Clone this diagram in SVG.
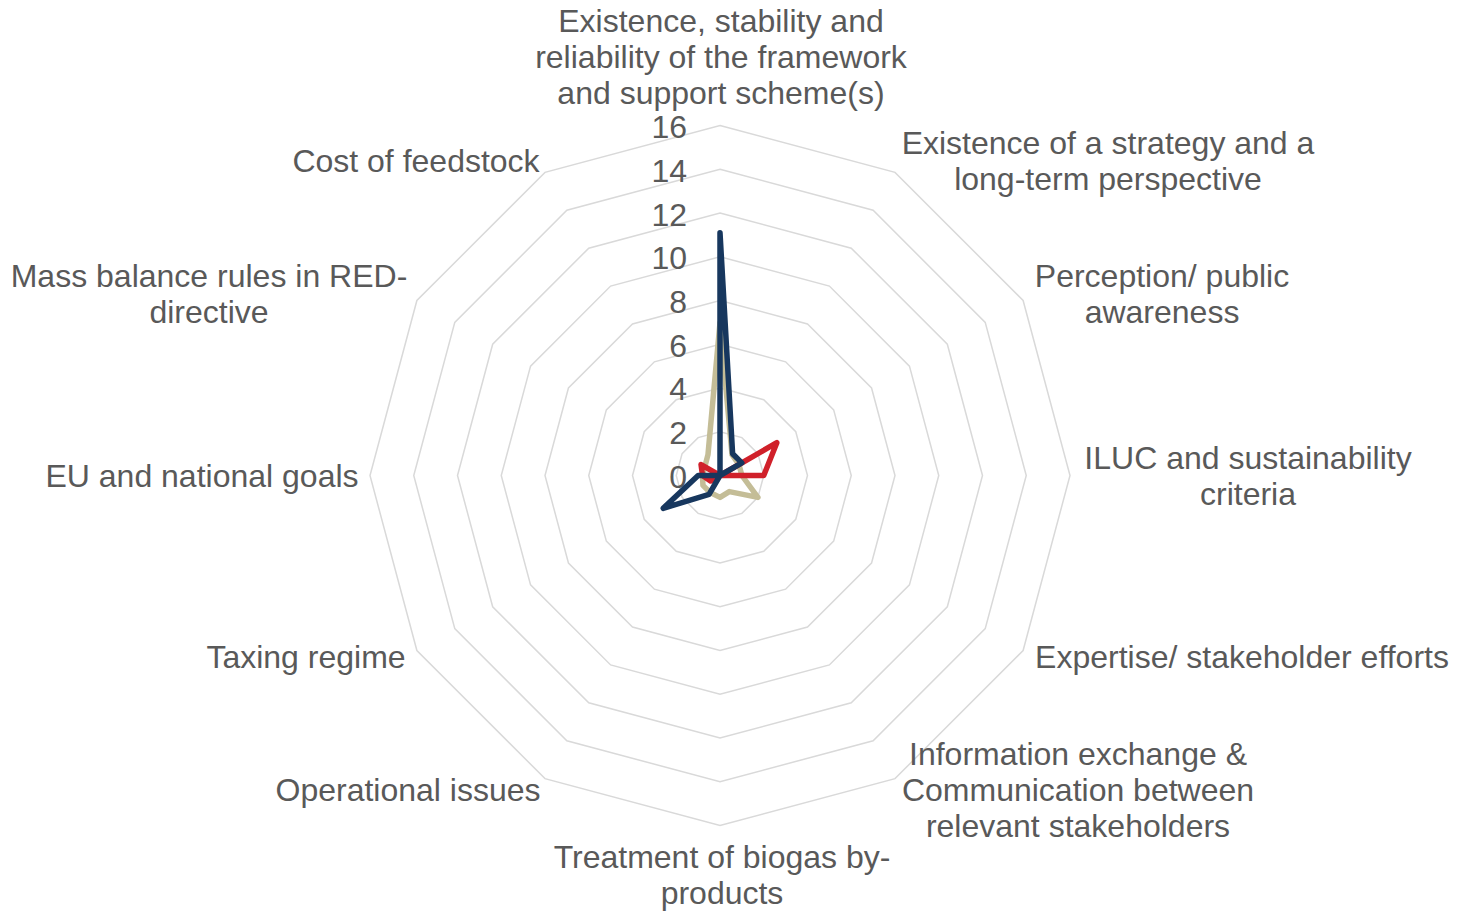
<svg xmlns="http://www.w3.org/2000/svg" width="1458" height="911" viewBox="0 0 1458 911">
  <style>
    .ring { fill: none; stroke: #D9D9D9; stroke-width: 1.5; }
    .lbl { font-family: "Liberation Sans", Arial, sans-serif; font-size: 32px; fill: #595959; }
    .mid { text-anchor: middle; }
    .tick { font-family: "Liberation Sans", Arial, sans-serif; font-size: 32px; fill: #595959; text-anchor: end; }
    .series { fill: none; stroke-width: 5.5; stroke-linejoin: round; stroke-linecap: round; }
  </style>
  <rect width="1458" height="911" fill="#FFFFFF"/>
  <g id="grid">
    <polygon class="ring" points="720,431.75 741.88,437.61 757.89,453.63 763.75,475.5 757.89,497.38 741.88,513.39 720,519.25 698.13,513.39 682.11,497.38 676.25,475.5 682.11,453.63 698.13,437.61"/>
    <polygon class="ring" points="720,388 763.75,399.72 795.78,431.75 807.5,475.5 795.78,519.25 763.75,551.28 720,563 676.25,551.28 644.22,519.25 632.5,475.5 644.22,431.75 676.25,399.72"/>
    <polygon class="ring" points="720,344.25 785.63,361.84 833.66,409.87 851.25,475.5 833.66,541.13 785.63,589.16 720,606.75 654.37,589.16 606.34,541.13 588.75,475.5 606.34,409.87 654.37,361.84"/>
    <polygon class="ring" points="720,300.5 807.5,323.95 871.55,388 895,475.5 871.55,563 807.5,627.05 720,650.5 632.5,627.05 568.45,563 545,475.5 568.45,388 632.5,323.95"/>
    <polygon class="ring" points="720,256.75 829.38,286.06 909.44,366.12 938.75,475.5 909.44,584.88 829.38,664.94 720,694.25 610.62,664.94 530.56,584.88 501.25,475.5 530.56,366.12 610.62,286.06"/>
    <polygon class="ring" points="720,213 851.25,248.17 947.33,344.25 982.5,475.5 947.33,606.75 851.25,702.83 720,738 588.75,702.83 492.67,606.75 457.5,475.5 492.67,344.25 588.75,248.17"/>
    <polygon class="ring" points="720,169.25 873.13,210.28 985.22,322.37 1026.25,475.5 985.22,628.63 873.13,740.72 720,781.75 566.87,740.72 454.78,628.63 413.75,475.5 454.78,322.37 566.87,210.28"/>
    <polygon class="ring" points="720,125.5 895,172.39 1023.11,300.5 1070,475.5 1023.11,650.5 895,778.61 720,825.5 545,778.61 416.89,650.5 370,475.5 416.89,300.5 545,172.39"/>
  </g>
  <g id="ticks">
    <text class="tick" x="687" y="488">0</text>
    <text class="tick" x="687" y="444">2</text>
    <text class="tick" x="687" y="400">4</text>
    <text class="tick" x="687" y="357">6</text>
    <text class="tick" x="687" y="313">8</text>
    <text class="tick" x="687" y="269">10</text>
    <text class="tick" x="687" y="226">12</text>
    <text class="tick" x="687" y="182">14</text>
    <text class="tick" x="687" y="138">16</text>
  </g>
  <g id="series">
    <polygon id="series-tan" class="series" stroke="#C4BD97" points="720,322.4 732.03,454.66 738.94,464.56 741.88,475.5 757.89,497.38 729.3,491.6 720,497.38 710.16,492.55 702.94,485.35 702.5,475.5 704.84,466.75 707.97,454.66"/>
    <polygon id="series-red" class="series" stroke="#D0202A" points="720,475.5 720,475.5 776.83,442.69 763.75,475.5 720,475.5 720,475.5 720,475.5 720,475.5 710.5,481 702.5,475.5 701.06,464.56 720,475.5"/>
    <polygon id="series-blue" class="series" stroke="#17375E" points="720,232.7 732.6,453.7 741.8,462.9 720,475.5 720,475.5 720,475.5 720,475.5 709.06,494.44 663.17,508.31 698.13,475.5 720,475.5 720,475.5"/>
  </g>
  <g id="label-0">
    <text class="lbl mid" x="721" y="32">Existence, stability and</text>
    <text class="lbl mid" x="721" y="68">reliability of the framework</text>
    <text class="lbl mid" x="721" y="104">and support scheme(s)</text>
  </g>
  <g id="label-1">
    <text class="lbl mid" x="1108" y="154">Existence of a strategy and a</text>
    <text class="lbl mid" x="1108" y="190">long-term perspective</text>
  </g>
  <g id="label-2">
    <text class="lbl mid" x="1162" y="287">Perception/ public</text>
    <text class="lbl mid" x="1162" y="323">awareness</text>
  </g>
  <g id="label-3">
    <text class="lbl mid" x="1248" y="469">ILUC and sustainability</text>
    <text class="lbl mid" x="1248" y="505">criteria</text>
  </g>
  <g id="label-4">
    <text class="lbl mid" x="1242" y="668">Expertise/ stakeholder efforts</text>
  </g>
  <g id="label-5">
    <text class="lbl mid" x="1078" y="765">Information exchange &amp;</text>
    <text class="lbl mid" x="1078" y="801">Communication between</text>
    <text class="lbl mid" x="1078" y="837">relevant stakeholders</text>
  </g>
  <g id="label-6">
    <text class="lbl mid" x="722" y="868">Treatment of biogas by-</text>
    <text class="lbl mid" x="722" y="904">products</text>
  </g>
  <g id="label-7">
    <text class="lbl mid" x="408" y="801">Operational issues</text>
  </g>
  <g id="label-8">
    <text class="lbl mid" x="306" y="668">Taxing regime</text>
  </g>
  <g id="label-9">
    <text class="lbl mid" x="202" y="487">EU and national goals</text>
  </g>
  <g id="label-10">
    <text class="lbl mid" x="209" y="287">Mass balance rules in RED-</text>
    <text class="lbl mid" x="209" y="323">directive</text>
  </g>
  <g id="label-11">
    <text class="lbl mid" x="416" y="172">Cost of feedstock</text>
  </g>
</svg>
